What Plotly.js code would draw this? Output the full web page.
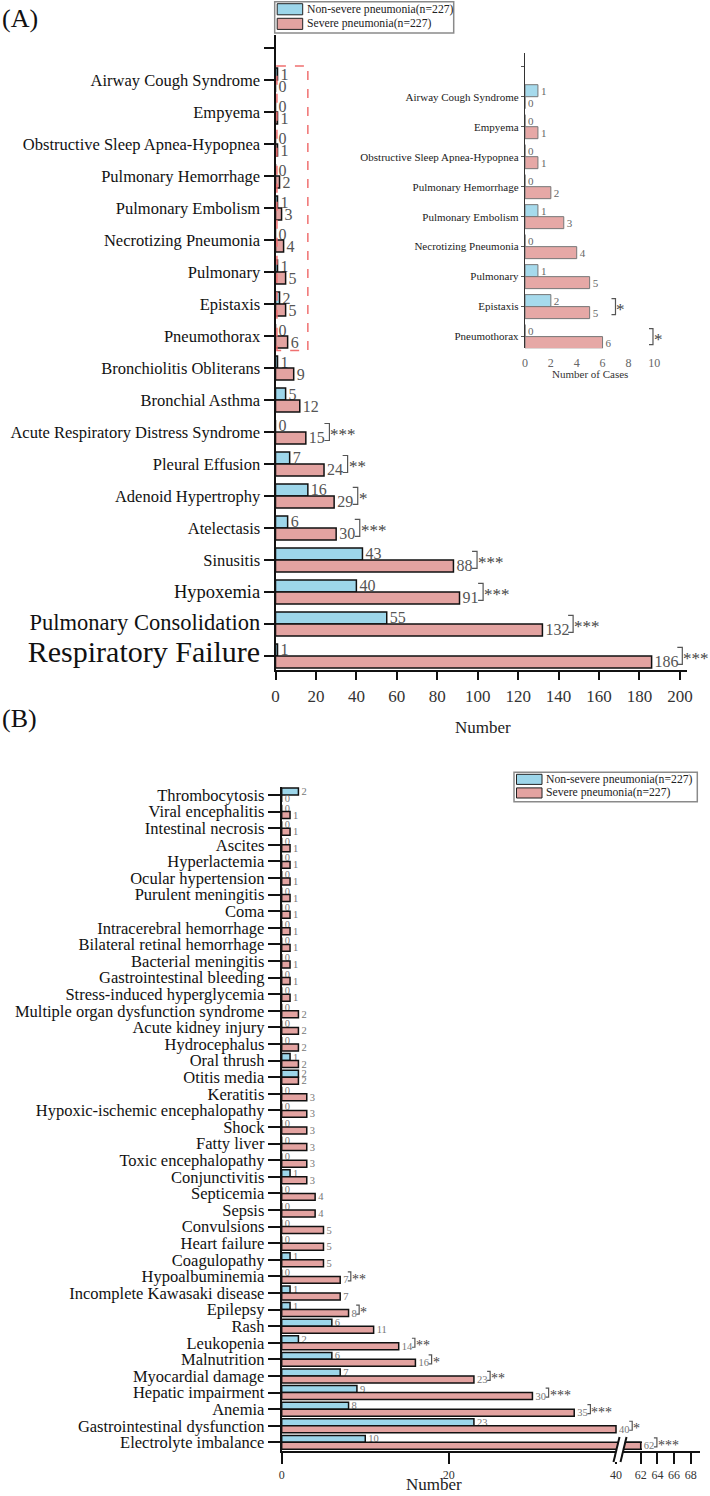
<!DOCTYPE html>
<html>
<head>
<meta charset="utf-8">
<script src="https://cdn.plot.ly/plotly-3.0.1.min.js"></script>
<style>html,body{margin:0;padding:0;background:#fff;}</style>
</head>
<body>
<div id="chart" style="width:710px;height:1496px;"></div>
<script>
// ---------- Panel A: respiratory complications (top to bottom) ----------
const respCategories = [
  'Airway Cough Syndrome', 'Empyema', 'Obstructive Sleep Apnea-Hypopnea',
  'Pulmonary Hemorrhage', 'Pulmonary Embolism', 'Necrotizing Pneumonia',
  'Pulmonary', 'Epistaxis', 'Pneumothorax', 'Bronchiolitis Obliterans',
  'Bronchial Asthma', 'Acute Respiratory Distress Syndrome', 'Pleural Effusion',
  'Adenoid Hypertrophy', 'Atelectasis', 'Sinusitis', 'Hypoxemia',
  'Pulmonary Consolidation', 'Respiratory Failure'
];
const respNonSevere = [1, 0, 0, 0, 1, 0, 1, 2, 0, 1, 5, 0, 7, 16, 6, 43, 40, 55, 1];
const respSevere    = [0, 1, 1, 2, 3, 4, 5, 5, 6, 9, 12, 15, 24, 29, 30, 88, 91, 132, 186];
const respSignificance = {
  'Acute Respiratory Distress Syndrome': '***',
  'Pleural Effusion': '**',
  'Adenoid Hypertrophy': '*',
  'Atelectasis': '***',
  'Sinusitis': '***',
  'Hypoxemia': '***',
  'Pulmonary Consolidation': '***',
  'Respiratory Failure': '***'
};
// the three most frequent complications are labelled in larger type
const respLabelSize = { 'Hypoxemia': 18.5, 'Pulmonary Consolidation': 22.5, 'Respiratory Failure': 30 };

// rare complications shown again in the zoomed inset
const insetCount = 9;
const insetSignificance = { 'Epistaxis': '*', 'Pneumothorax': '*' };
const insetMarkX = { 'Epistaxis': 7, 'Pneumothorax': 9.9 };

// ---------- Panel B: extrapulmonary complications (top to bottom) ----------
const extraCategories = [
  'Thrombocytosis', 'Viral encephalitis', 'Intestinal necrosis', 'Ascites',
  'Hyperlactemia', 'Ocular hypertension', 'Purulent meningitis', 'Coma',
  'Intracerebral hemorrhage', 'Bilateral retinal hemorrhage', 'Bacterial meningitis',
  'Gastrointestinal bleeding', 'Stress-induced hyperglycemia',
  'Multiple organ dysfunction syndrome', 'Acute kidney injury', 'Hydrocephalus',
  'Oral thrush', 'Otitis media', 'Keratitis', 'Hypoxic-ischemic encephalopathy',
  'Shock', 'Fatty liver', 'Toxic encephalopathy', 'Conjunctivitis', 'Septicemia',
  'Sepsis', 'Convulsions', 'Heart failure', 'Coagulopathy', 'Hypoalbuminemia',
  'Incomplete Kawasaki disease', 'Epilepsy', 'Rash', 'Leukopenia', 'Malnutrition',
  'Myocardial damage', 'Hepatic impairment', 'Anemia',
  'Gastrointestinal dysfunction', 'Electrolyte imbalance'
];
const extraNonSevere = [2, 0, 0, 0, 0, 0, 0, 0, 0, 0, 0, 0, 0, 0, 0, 0, 1, 2, 0, 0,
                        0, 0, 0, 1, 0, 0, 0, 0, 1, 0, 1, 1, 6, 2, 6, 7, 9, 8, 23, 10];
const extraSevere    = [0, 1, 1, 1, 1, 1, 1, 1, 1, 1, 1, 1, 1, 2, 2, 2, 2, 2, 3, 3,
                        3, 3, 3, 3, 4, 4, 5, 5, 5, 7, 7, 8, 11, 14, 16, 23, 30, 35, 40, 62];
const extraSignificance = {
  'Hypoalbuminemia': '**',
  'Epilepsy': '*',
  'Leukopenia': '**',
  'Malnutrition': '*',
  'Myocardial damage': '**',
  'Hepatic impairment': '***',
  'Anemia': '***',
  'Gastrointestinal dysfunction': '*',
  'Electrolyte imbalance': '***'
};

const legendNames = ['Non-severe pneumonia(n=227)', 'Severe pneumonia(n=227)'];

// ---------- styling ----------
const W = 710, H = 1496;
const FONT = '"Liberation Serif", "Times New Roman", serif';
const BLUE = '#9dd6ea';
const RED = '#e3a3a1';
const px = v => v / W;          // pixel column -> paper x
const py = v => 1 - v / H;      // pixel row -> paper y

// broken axis of panel B: left segment ends at BREAK_LO, right one starts at BREAK_HI
const BREAK_LO = 43.11, BREAK_HI = 59.76;

const respY = respCategories.map((c, i) => i + 1);   // slot 0 is an empty tick
const insetCats = respCategories.slice(0, insetCount);
const insetY = insetCats.map((c, i) => i + 1);
const extraY = extraCategories.map((c, i) => i);

function barTrace(values, yPos, thick, upper, xa, ya, o) {
  return Object.assign({
    type: 'bar', orientation: 'h',
    x: values, y: yPos,
    width: thick, offset: upper ? -thick : 0,
    marker: { color: upper ? BLUE : RED, line: { color: '#111', width: 1.5 } },
    text: values.map(String), textposition: 'outside', constraintext: 'none',
    cliponaxis: false,
    textfont: { family: FONT, size: 16, color: '#555' },
    xaxis: xa, yaxis: ya, showlegend: false, hoverinfo: 'skip'
  }, o || {});
}

const smallText = { family: FONT, size: 10.5, color: '#777' };
const traces = [
  // panel A main
  barTrace(respNonSevere, respY, 0.375, true, 'x', 'y'),
  barTrace(respSevere, respY, 0.375, false, 'x', 'y'),
  // panel A inset
  barTrace(respNonSevere.slice(0, insetCount), insetY, 0.4, true, 'x2', 'y2', {
    marker: { color: '#a6daec', line: { color: '#777', width: 1 } },
    textfont: { family: FONT, size: 11, color: '#666' }
  }),
  barTrace(respSevere.slice(0, insetCount), insetY, 0.4, false, 'x2', 'y2', {
    marker: { color: '#e6a8a6', line: { color: '#777', width: 1 } },
    textfont: { family: FONT, size: 11, color: '#666' }
  }),
  // panel B, left segment of the broken axis
  barTrace(extraNonSevere, extraY, 0.42, true, 'x3', 'y3', {
    cliponaxis: true, textfont: smallText
  }),
  barTrace(extraSevere, extraY, 0.42, false, 'x3', 'y3', {
    cliponaxis: true, textfont: smallText,
    text: extraSevere.map(v => (v < BREAK_LO ? String(v) : ''))
  }),
  // panel B, right segment after the break
  barTrace(extraSevere, extraY, 0.42, false, 'x4', 'y3', {
    cliponaxis: true, textfont: smallText,
    text: extraSevere.map(v => (v > BREAK_HI ? String(v) : ''))
  })
];

const shapes = [];
const annotations = [];

// significance bracket "]" (vertical stroke vx pixels right of the anchor)
// followed by asterisks
function addMark(xref, yref, xVal, yVal, vx, w, h, mark, fontSize, lineColor) {
  shapes.push({
    type: 'path', xref: xref, yref: yref,
    xsizemode: 'pixel', ysizemode: 'pixel', xanchor: xVal, yanchor: yVal,
    path: `M${vx - w},${h} L${vx},${h} L${vx},${-h} L${vx - w},${-h}`,
    line: { color: lineColor, width: 1.2 }
  });
  annotations.push({
    xref: xref, yref: yref, x: xVal, y: yVal, text: mark, showarrow: false,
    xanchor: 'left', yanchor: 'middle', xshift: vx, yshift: -3, borderpad: 0,
    font: { family: FONT, size: fontSize, color: '#444' }
  });
}

respCategories.forEach((c, i) => {
  if (!respSignificance[c]) return;
  const v = Math.max(respNonSevere[i], respSevere[i]);
  addMark('x', 'y', v, respY[i], 9.4 + String(v).length * 7.1, 5, 8.5, respSignificance[c], 17, '#555');
});
insetCats.forEach((c, i) => {
  if (!insetSignificance[c]) return;
  addMark('x2', 'y2', insetMarkX[c], insetY[i], 0, 4, 8, insetSignificance[c], 17, '#555');
});
extraCategories.forEach((c, i) => {
  if (!extraSignificance[c]) return;
  const v = Math.max(extraNonSevere[i], extraSevere[i]);
  const onRight = v > BREAK_HI;
  addMark(onRight ? 'x4' : 'x3', 'y3', v, extraY[i], 5 + String(v).length * 5.6, 3, 4.5,
          extraSignificance[c], 14, '#555');
});

// dashed frame around the rare complications in panel A
shapes.push({
  type: 'rect', xref: 'x', yref: 'y', x0: 0.7, x1: 16, y0: 0.56, y1: 9.45,
  line: { color: '#f07070', width: 1.5, dash: 'dash' }
});

// axis break marks on panel B
shapes.push({
  type: 'path', xref: 'paper', yref: 'paper',
  path: `M${px(614)},${py(1462)} L${px(619.5)},${py(1437)} L${px(626)},${py(1437)} L${px(620.5)},${py(1462)} Z`,
  fillcolor: '#ffffff', line: { width: 0 }
});
[[613.5, 619.5], [620.5, 626.5]].forEach(([a, b]) => {
  shapes.push({
    type: 'line', xref: 'paper', yref: 'paper',
    x0: px(a), y0: py(1462), x1: px(b), y1: py(1437),
    line: { color: '#111', width: 2 }
  });
});

// hand-drawn legends (wide swatches)
function addLegend(left, top, right, bottom, rowH, fontSize) {
  shapes.push({
    type: 'rect', xref: 'paper', yref: 'paper',
    x0: px(left), x1: px(right), y0: py(bottom), y1: py(top),
    line: { color: '#8a8a8a', width: 1.5 }, fillcolor: '#ffffff'
  });
  [BLUE, RED].forEach((col, k) => {
    const t = top + 2 + k * rowH;
    shapes.push({
      type: 'rect', xref: 'paper', yref: 'paper',
      x0: px(left + 2.5), x1: px(left + 28), y0: py(t + rowH - 3.5), y1: py(t),
      line: { color: '#222', width: 1 }, fillcolor: col
    });
    annotations.push({
      xref: 'paper', yref: 'paper', x: px(left + 30), y: py(t + (rowH - 3.5) / 2),
      xanchor: 'left', yanchor: 'middle', showarrow: false, text: legendNames[k],
      font: { family: FONT, size: fontSize, color: '#222' }
    });
  });
}
addLegend(274.7, 1.7, 453.7, 33, 14.6, 11.7);
addLegend(514, 772.3, 697.3, 801.7, 13.6, 11.7);

// panel letters and axis titles
annotations.push(
  { xref: 'paper', yref: 'paper', x: px(0), y: py(18), xanchor: 'left', yanchor: 'middle',
    showarrow: false, text: '(A)', font: { family: FONT, size: 26, color: '#111' } },
  { xref: 'paper', yref: 'paper', x: px(0), y: py(718), xanchor: 'left', yanchor: 'middle',
    showarrow: false, text: '(B)', font: { family: FONT, size: 26, color: '#111' } },
  { xref: 'paper', yref: 'paper', x: px(483), y: py(727), xanchor: 'center', yanchor: 'middle',
    showarrow: false, text: 'Number', font: { family: FONT, size: 17, color: '#222' } },
  { xref: 'paper', yref: 'paper', x: px(590), y: py(374), xanchor: 'center', yanchor: 'middle',
    showarrow: false, text: 'Number of Cases', font: { family: FONT, size: 11, color: '#333' } },
  { xref: 'paper', yref: 'paper', x: px(434), y: py(1495), xanchor: 'center', yanchor: 'bottom',
    borderpad: 0, showarrow: false, text: 'Number', font: { family: FONT, size: 17, color: '#222' } }
);

const baseAxis = {
  showgrid: false, zeroline: false, showline: true, linecolor: '#111', linewidth: 2,
  ticks: 'outside', tickcolor: '#111', tickwidth: 2, fixedrange: true
};

const respTickText = respCategories.map(c =>
  respLabelSize[c] ? `<span style="font-size:${respLabelSize[c]}px">${c}</span>` : c);

const layout = {
  width: W, height: H, autosize: false,
  margin: { l: 0, r: 0, t: 0, b: 0, pad: 0 },
  paper_bgcolor: '#ffffff', plot_bgcolor: 'rgba(0,0,0,0)',
  showlegend: false,
  font: { family: FONT, color: '#111' },
  xaxis: Object.assign({}, baseAxis, {
    domain: [px(275.5), px(687)], range: [0, 203.5], anchor: 'y',
    tickvals: [0, 20, 40, 60, 80, 100, 120, 140, 160, 180, 200],
    ticklen: 8, ticklabelstandoff: 2, tickfont: { family: FONT, size: 17, color: '#333' }
  }),
  yaxis: Object.assign({}, baseAxis, {
    domain: [py(670), py(35)], range: [19.44, -0.41], anchor: 'x',
    tickvals: [0].concat(respY), ticktext: [''].concat(respTickText),
    ticklen: 10, tickfont: { family: FONT, size: 16.5, color: '#111' }
  }),
  xaxis2: Object.assign({}, baseAxis, {
    domain: [px(525), px(665)], range: [0, 10.83], anchor: 'y2',
    showline: false, ticks: '', tickvals: [0, 2, 4, 6, 8, 10], ticklabelstandoff: 6,
    tickfont: { family: FONT, size: 12, color: '#666' }
  }),
  yaxis2: Object.assign({}, baseAxis, {
    domain: [py(348.3), py(53)], range: [9.39, -0.457], anchor: 'x2',
    linecolor: '#333', linewidth: 1.2, tickcolor: '#555', tickwidth: 1, ticklen: 3,
    tickvals: [0].concat(insetY), ticktext: [''].concat(insetCats),
    tickfont: { family: FONT, size: 11, color: '#222' }
  }),
  xaxis3: Object.assign({}, baseAxis, {
    domain: [px(281.7), px(642)], range: [0, BREAK_LO], anchor: 'y3',
    tickvals: [0, 20, 40], ticklen: 11, ticklabelstandoff: 1,
    tickfont: { family: FONT, size: 12, color: '#333' }
  }),
  xaxis4: Object.assign({}, baseAxis, {
    domain: [px(622), px(700)], range: [BREAK_HI, 69.1], anchor: 'y3',
    tickvals: [62, 64, 66, 68], ticklen: 11, ticklabelstandoff: 1,
    tickfont: { family: FONT, size: 12, color: '#333' }
  }),
  yaxis3: Object.assign({}, baseAxis, {
    domain: [py(1451), py(786.7)], range: [39.52, -0.5], anchor: 'x3',
    tickvals: extraY, ticktext: extraCategories,
    ticklen: 12, tickfont: { family: FONT, size: 16.5, color: '#111' }
  }),
  shapes: shapes,
  annotations: annotations
};

Plotly.newPlot('chart', traces, layout, { staticPlot: true, displayModeBar: false });
</script>
</body>
</html>
